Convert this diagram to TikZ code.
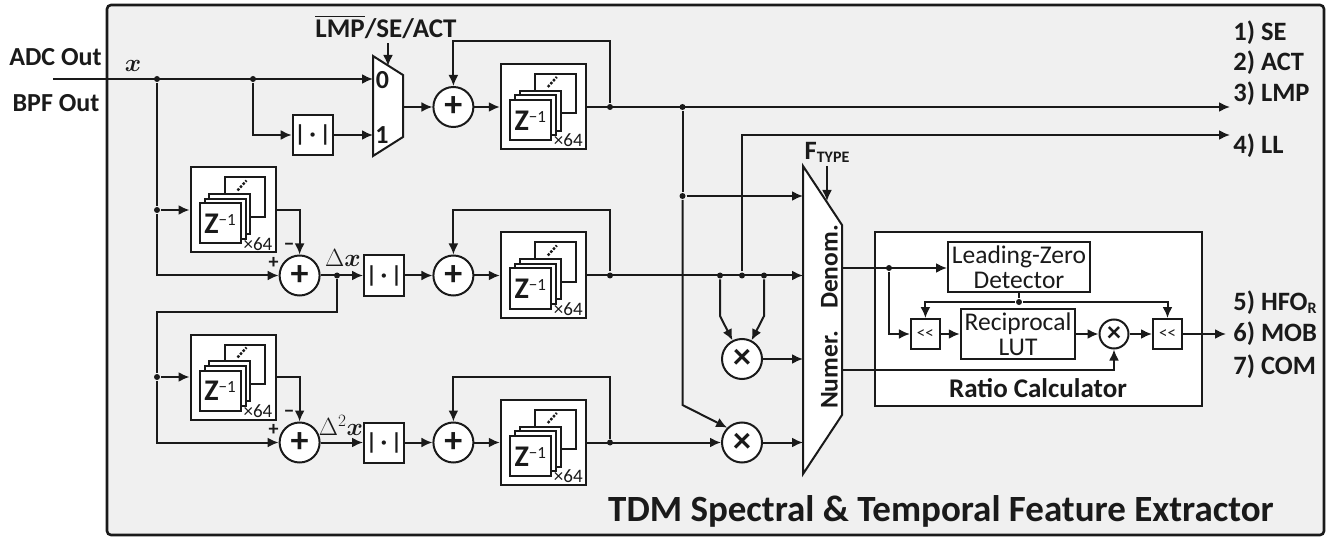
\documentclass[tikz,border=0pt]{standalone}
\usepackage{fontspec}
\usepackage{amsmath}
\setmainfont{Carlito}
\usetikzlibrary{arrows.meta, positioning, calc}
\definecolor{cpanel}{HTML}{F0F0F0}
\definecolor{cline}{HTML}{1A1A1A}
\newcommand{\absmark}{|\hspace{4pt}·\hspace{4pt}|}
\tikzset{
  every picture/.style={line width=2pt, draw=cline, text=cline},
  arrow/.style={-{Latex[length=11pt,width=10pt]}},
  label/.style={font=\fontsize{26}{29}\selectfont\bfseries},
  tag/.style={font=\fontsize{26.5}{29}\selectfont\bfseries, anchor=west},
  unit/.style={draw, fill=white, inner sep=0pt, align=center, font=\fontsize{25.5}{25}\selectfont},
  membox/.style={unit, minimum width=85pt, minimum height=85pt},
  absbox/.style={unit, minimum width=40pt, minimum height=40pt, font=\fontsize{23}{26}\selectfont\bfseries},
  shiftbox/.style={unit, minimum width=29pt, minimum height=30pt, font=\fontsize{17}{19}\selectfont},
  adder/.style={circle, draw, fill=white, minimum size=40pt, inner sep=0pt, font=\fontsize{36}{36}\selectfont\bfseries},
  dot/.style={circle, fill=cline, minimum size=6pt, inner sep=0pt},
  sign/.style={font=\fontsize{20}{22}\selectfont\bfseries},
  mathlab/.style={font=\fontsize{24}{26}\selectfont},
  pics/zstack/.style={code={
    \draw[fill=white] (-8.2,-32.5) rectangle (32.2,6.8);
    \draw[dash pattern=on 2.5pt off 1.5pt, line width=2.4pt] (4.5,-19.5) -- (13.5,-29.5);
    \foreach \dd in {9.4,4.7,0}
      \draw[fill=white] (-33+\dd,-6.5-\dd) rectangle (8+\dd,33.5-\dd);
    \node[font=\fontsize{30}{32}\selectfont\bfseries] at (-13,14) {Z\raisebox{8pt}{\fontsize{17}{19}\selectfont\mdseries −1}};
    \node[font=\fontsize{19}{21}\selectfont] at (25,34) {×64};
  }},
}

\begin{document}
\begin{tikzpicture}[x=1pt, y=-1pt]
  \useasboundingbox (0,0) rectangle (1338,537);
  \draw[line width=2.6pt, fill=cpanel, rounded corners=4pt] (107,5) rectangle (1324,535);
  % inputs
  \node[label] (adc) at (55.5,57) {ADC Out};
  \node[label] (bpf) at (56,103) {BPF Out};
  \coordinate (in) at (53,79);
  \node[mathlab] (xlab) at (133,66) {$\boldsymbol{x}$};
  % top row
  \node[dot] (j1) at (157,79) {};
  \node[dot] (j2) at (253,79) {};
  \draw[fill=white] (373,56) -- (403,75) -- (403,137) -- (373,156) -- cycle;
  \coordinate (mux0) at (373,79);
  \coordinate (mux1) at (373,135);
  \coordinate (muxout) at (403,107);
  \coordinate (muxsel) at (388,66);
  \node[label] (zero) at (382.5,80) {0};
  \node[label] (one) at (382,135) {1};
  \node[label, font=\fontsize{27}{29}\selectfont\bfseries] (sel) at (386,27) {$\overline{\text{LMP}}$/SE/ACT};
  \node[absbox] (abs1) at (312.7,135) {\absmark};
  \node[adder] (add1) at (453.4,107) {+};
  \node[membox] (mem1) at (543.3,106.5) {};
  \pic at (mem1) {zstack};
  \draw[arrow] (in) -- (mux0);
  \draw[arrow] (j2) |- (abs1);
  \draw[arrow] (abs1) -- (mux1);
  \draw[arrow] (sel.south -| muxsel) -- (muxsel);
  \draw[arrow] (muxout) -- (add1);
  \draw[arrow] (add1) -- (mem1.west |- add1);
  \node[dot] (fb1) at (610,107) {};
  \node[dot] (k1) at (682.5,107) {};
  \coordinate (out3) at (1230,107);
  \draw[arrow] (mem1.east |- fb1) -- (out3);
  \draw[arrow] (fb1) -- (610,41) -| (add1);
  % second row
  \node[membox] (del1) at (233,210) {};
  \pic at (del1) {zstack};
  \node[dot] (j3) at (157,210) {};
  \node[adder] (sub1) at (299.6,275.5) {+};
  \node[sign] (minus1) at (289,247) {−};
  \node[sign] (plus1) at (273.5,263) {+};
  \node[mathlab] (dxlab) at (343,258) {$\Delta\boldsymbol{x}$};
  \node[dot] (j4) at (337,275.5) {};
  \node[absbox] (abs2) at (384,275.5) {\absmark};
  \node[adder] (add2) at (453.4,275.5) {+};
  \node[membox] (mem2) at (543.3,275) {};
  \pic at (mem2) {zstack};
  \node[dot] (fb2) at (610,275.5) {};
  \draw (j1) -- (j3);
  \draw[arrow] (j3) -- (del1);
  \draw[arrow] (j3) |- (sub1);
  \draw[arrow] (del1) -| (sub1);
  \draw[arrow] (sub1) -- (abs2);
  \draw[arrow] (abs2) -- (add2);
  \draw[arrow] (add2) -- (mem2.west |- add2);
  \draw[arrow] (fb2) -- (610,210) -| (add2);
  % third row
  \node[membox] (del2) at (233,377) {};
  \pic at (del2) {zstack};
  \node[dot] (j5) at (157,377) {};
  \node[adder] (sub2) at (299.6,442.5) {+};
  \node[sign] (minus2) at (289,414) {−};
  \node[sign] (plus2) at (273.5,430) {+};
  \node[mathlab] (ddxlab) at (341,425) {$\Delta^2\boldsymbol{x}$};
  \node[absbox] (abs3) at (384,442.5) {\absmark};
  \node[adder] (add3) at (453.4,442.5) {+};
  \node[membox] (mem3) at (543.3,442.5) {};
  \pic at (mem3) {zstack};
  \node[dot] (fb3) at (610,442.5) {};
  \draw (j4) -- (337,312) -- (157,312) -- (j5);
  \draw[arrow] (j5) -- (del2);
  \draw[arrow] (j5) |- (sub2);
  \draw[arrow] (del2) -| (sub2);
  \draw[arrow] (sub2) -- (abs3);
  \draw[arrow] (abs3) -- (add3);
  \draw[arrow] (add3) -- (mem3.west |- add3);
  \draw[arrow] (fb3) -- (610,377) -| (add3);
  % selector with denominator and numerator
  \draw[fill=white] (803,166) -- (842,225) -- (842,415) -- (803,474) -- cycle;
  \node[font=\fontsize{25.5}{28}\selectfont\bfseries, rotate=90] (denom) at (829.5,267) {Denom.};
  \node[font=\fontsize{25.5}{28}\selectfont\bfseries, rotate=90] (numer) at (829.5,370) {Numer.};
  \node[font=\fontsize{26.5}{29}\selectfont\bfseries] (ftype) at (827,152) {F\raisebox{-3pt}{\fontsize{16}{18}\selectfont TYPE}};
  \draw[arrow] (827,166) -- (827,201);
  \node[dot] (k2) at (682.5,196) {};
  \node[dot] (k3) at (720,275.5) {};
  \node[dot] (k4) at (742,275.5) {};
  \node[dot] (k5) at (764,275.5) {};
  \node[adder] (mul1) at (742,359) {×};
  \node[adder] (mul2) at (742,442.5) {×};
  \coordinate (out4) at (1230,135);
  \draw[arrow] (mem2.east |- fb2) -- (803,275.5);
  \draw (k1) -- (k2);
  \draw[arrow] (k2) -- (803,196);
  \draw[arrow] (k2) -- (682.5,405) -- (mul2.135);
  \draw[arrow] (k4) -- (742,135) -- (out4);
  \draw[arrow] (k3) -- (720,316) -- (mul1);
  \draw[arrow] (k5) -- (764,316) -- (mul1);
  \draw[arrow] (mul1) -- (803,359);
  \draw[arrow] (mem3.east |- fb3) -- (mul2);
  \draw[arrow] (mul2) -- (803,442.5);
  % ratio calculator
  \draw[fill=white] (875,232) rectangle (1201.5,406);
  \node[font=\fontsize{27}{29}\selectfont\bfseries] (ratio) at (1038,388) {Ratio Calculator};
  \node[unit, minimum width=142pt, minimum height=49pt] (lzd) at (1019,267) {Leading-Zero\\Detector};
  \node[unit, minimum width=114.5pt, minimum height=49.5pt] (lut) at (1018,334) {Reciprocal\\LUT};
  \node[shiftbox] (shl1) at (925.4,334) {<{}<};
  \node[shiftbox] (shl2) at (1167.5,334) {<{}<};
  \node[adder, minimum size=29pt, font=\fontsize{28}{28}\selectfont\bfseries] (mul3) at (1114,334) {×};
  \node[dot] (r1) at (889,268) {};
  \node[dot] (r2) at (1019,302) {};
  \coordinate (out6) at (1226,334);
  \draw[arrow] (842,268) -- (lzd.west |- r1);
  \draw[arrow] (r1) |- (shl1);
  \draw (lzd.south -| r2) -- (r2);
  \draw[arrow] (r2) -| (shl1);
  \draw[arrow] (r2) -| (shl2);
  \draw[arrow] (shl1) -- (lut);
  \draw[arrow] (lut) -- (mul3);
  \draw[arrow] (mul3) -- (shl2);
  \draw[arrow] (842,369.5) -| (mul3);
  \draw[arrow] (shl2) -- (out6);
  % outputs
  \node[tag] (se) at (1229,33) {1) SE};
  \node[tag] (act) at (1229,63) {2) ACT};
  \node[tag] (lmp) at (1229,94) {3) LMP};
  \node[tag] (ll) at (1229,146) {4) LL};
  \node[tag] (hfo) at (1229,303) {5) HFO\raisebox{-3pt}{\fontsize{16}{18}\selectfont R}};
  \node[tag] (mob) at (1229,334) {6) MOB};
  \node[tag] (com) at (1229,367) {7) COM};
  \node[font=\fontsize{37}{40}\selectfont\bfseries] (title) at (941,511) {TDM Spectral \& Temporal Feature Extractor};
\end{tikzpicture}
\end{document}
